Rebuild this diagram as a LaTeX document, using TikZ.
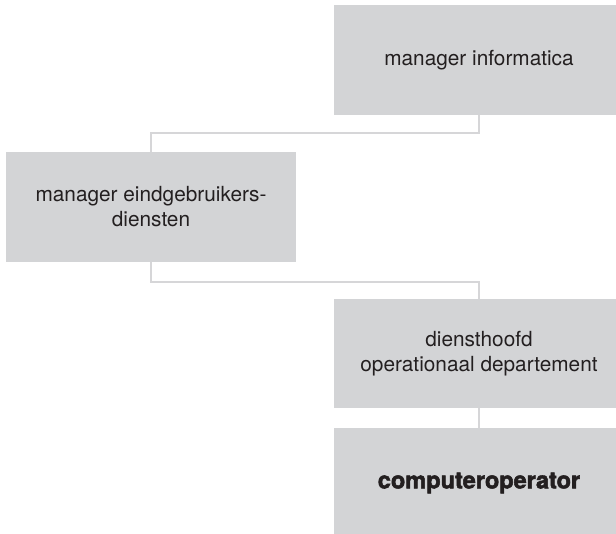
\documentclass[tikz,border=0pt]{standalone}
\usepackage{fontspec}
\setmainfont{TeX Gyre Heros}
\newfontfamily\heavyfont[FakeBold=2.2]{TeX Gyre Heros Bold}
\definecolor{boxgray}{HTML}{D3D4D6}
\definecolor{linegray}{HTML}{D6D6D8}
\definecolor{textgray}{HTML}{231F20}
\begin{document}
\begin{tikzpicture}[x=1pt,y=-1pt,
  orgbox/.style={fill=boxgray, draw=none, minimum width=290pt, minimum height=110pt,
    inner sep=0pt, align=center, text=textgray, font=\fontsize{20.8}{25}\selectfont},
  link/.style={draw=linegray, line width=2.5pt}]
\useasboundingbox (0,0) rectangle (616,534);
\clip (0,0) rectangle (616,534);
\node[orgbox] (mi) at (479,60) {manager informatica};
\node[orgbox] (me) at (151,207) {manager eindgebruikers-\\diensten};
\node[orgbox, minimum height=109pt] (dh) at (479,353.5) {diensthoofd\\operationaal departement};
\node[orgbox, font=\heavyfont\fontsize{23.5}{27}\selectfont] (co) at (479,483) {computeroperator};
\coordinate (j1) at (479,133);
\coordinate (j2) at (151,133);
\coordinate (j3) at (151,282);
\coordinate (j4) at (479,282);
\draw[link] (mi.south -| j1) -- (j1) -- (j2) -- (me.north -| j2);
\draw[link] (me.south -| j3) -- (j3) -- (j4) -- (dh.north -| j4);
\draw[link] (dh.south) -- (co.north);
\end{tikzpicture}
\end{document}
